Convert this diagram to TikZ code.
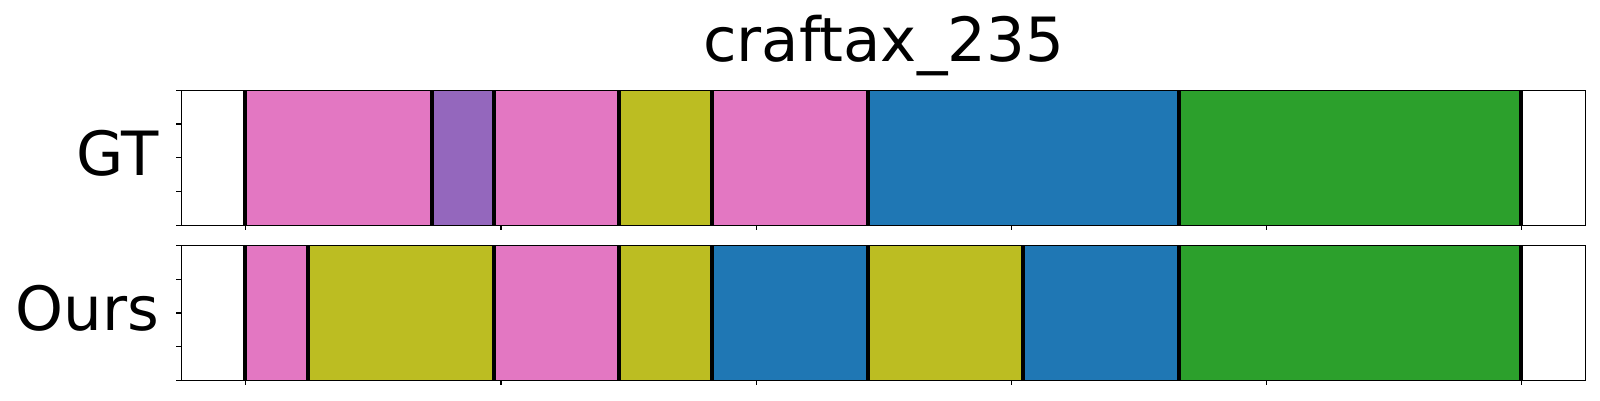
\documentclass[tikz,border=0pt]{standalone}
\usepackage{fontspec}
\setmainfont{DejaVu Sans}
\definecolor{tpink}{HTML}{E377C2}
\definecolor{tpurple}{HTML}{9467BD}
\definecolor{tolive}{HTML}{BCBD22}
\definecolor{tblue}{HTML}{1F77B4}
\definecolor{tgreen}{HTML}{2CA02C}
\begin{document}
\begin{tikzpicture}[x=1pt,y=-1pt,
  frame/.style={draw=black,line width=1.5pt},
  tickline/.style={draw=black,line width=1.2pt},
  sep/.style={draw=black,line width=4pt},
  lbl/.style={inner sep=0pt,font=\fontsize{61}{70}\selectfont}]
\useasboundingbox (0,0) rectangle (1600,400);
% title
\node[lbl,anchor=base] (title) at (883.5,61.7) {craftax\_235};
% labels
\node[lbl,anchor=base east] (gt) at (159,175) {GT};
\node[lbl,anchor=base east] (ours) at (159.5,330.5) {Ours};
% top axes segments
\foreach \a/\b/\c in {244.7/431.7/tpink,431.7/494/tpurple,494/619/tpink,619/712/tolive,712/868/tpink,868/1179/tblue,1179/1520.7/tgreen}
  \fill[\c] (\a,90.3) rectangle (\b,225.3);
% bottom axes segments
\foreach \a/\b/\c in {244.7/308/tpink,308/494/tolive,494/619/tpink,619/712/tolive,712/868/tblue,868/1023/tolive,1023/1179/tblue,1179/1520.7/tgreen}
  \fill[\c] (\a,245.7) rectangle (\b,380.3);
% boundaries
\foreach \x in {244.7,431.7,494,619,712,868,1179,1520.7}
  \draw[sep] (\x,90.3) -- (\x,225.3);
\foreach \x in {244.7,308,494,619,712,868,1023,1179,1520.7}
  \draw[sep] (\x,245.7) -- (\x,380.3);
% frames
\draw[frame] (181.3,90.3) rectangle (1585.7,225.3);
\draw[frame] (181.3,245.7) rectangle (1585.7,380.3);
% y ticks
\foreach \y in {90.3,124.05,157.8,191.55,225.3}
  \draw[tickline] (181.3,\y) -- ++(-5,0);
\foreach \y in {245.7,279.35,313,346.65,380.3}
  \draw[tickline] (181.3,\y) -- ++(-5,0);
% x ticks
\foreach \k in {0,...,5}{
  \draw[tickline] (245.7+255.2*\k,225.3) -- ++(0,5);
  \draw[tickline] (245.7+255.2*\k,380.3) -- ++(0,5);
}
\end{tikzpicture}
\end{document}
